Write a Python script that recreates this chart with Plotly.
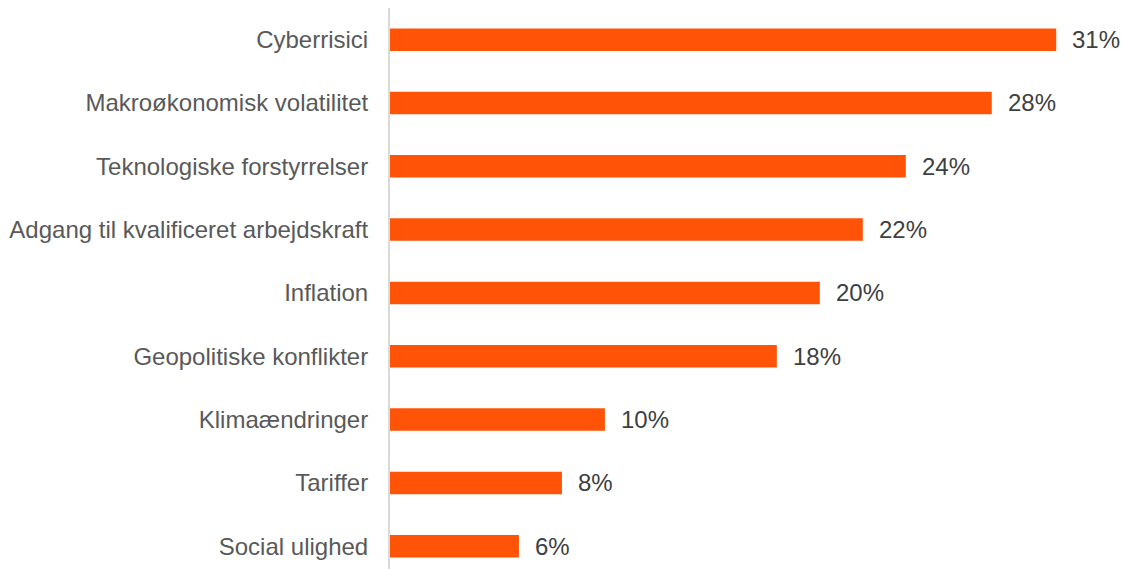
import plotly.graph_objects as go

categories = ["Social ulighed", "Tariffer", "Klimaændringer", "Geopolitiske konflikter",
              "Inflation", "Adgang til kvalificeret arbejdskraft", "Teknologiske forstyrrelser",
              "Makroøkonomisk volatilitet", "Cyberrisici"]
values = [6, 8, 10, 18, 20, 22, 24, 28, 31]
labels = [f"{v}%" for v in values]

fig = go.Figure()
fig.add_trace(go.Bar(
    x=values, y=categories, orientation="h",
    marker=dict(color="#FF5308", line=dict(width=0)),
    width=0.355, hoverinfo="skip",
))
for c, v, t in zip(categories, values, labels):
    fig.add_annotation(x=v, y=c, text=t, showarrow=False, xanchor="left",
                       xshift=14, font=dict(family="Liberation Sans, Arial", size=24, color="#404040"))

fig.update_layout(
    width=1125, height=569,
    margin=dict(l=390, r=0, t=8, b=0),
    paper_bgcolor="white", plot_bgcolor="white",
    showlegend=False,
    xaxis=dict(range=[0, 34.2], visible=False, fixedrange=True),
    yaxis=dict(range=[-0.36, 8.5], showgrid=False, zeroline=False, fixedrange=True,
               showline=True, linecolor="#D9D9D9", linewidth=2,
               ticks="", ticklabelstandoff=15,
               tickfont=dict(family="Liberation Sans, Arial", size=24, color="#595959")),
)
fig.write_html("out.html", config={"displayModeBar": False},
               post_script="document.body.style.margin='0';document.body.style.overflow='hidden';")
